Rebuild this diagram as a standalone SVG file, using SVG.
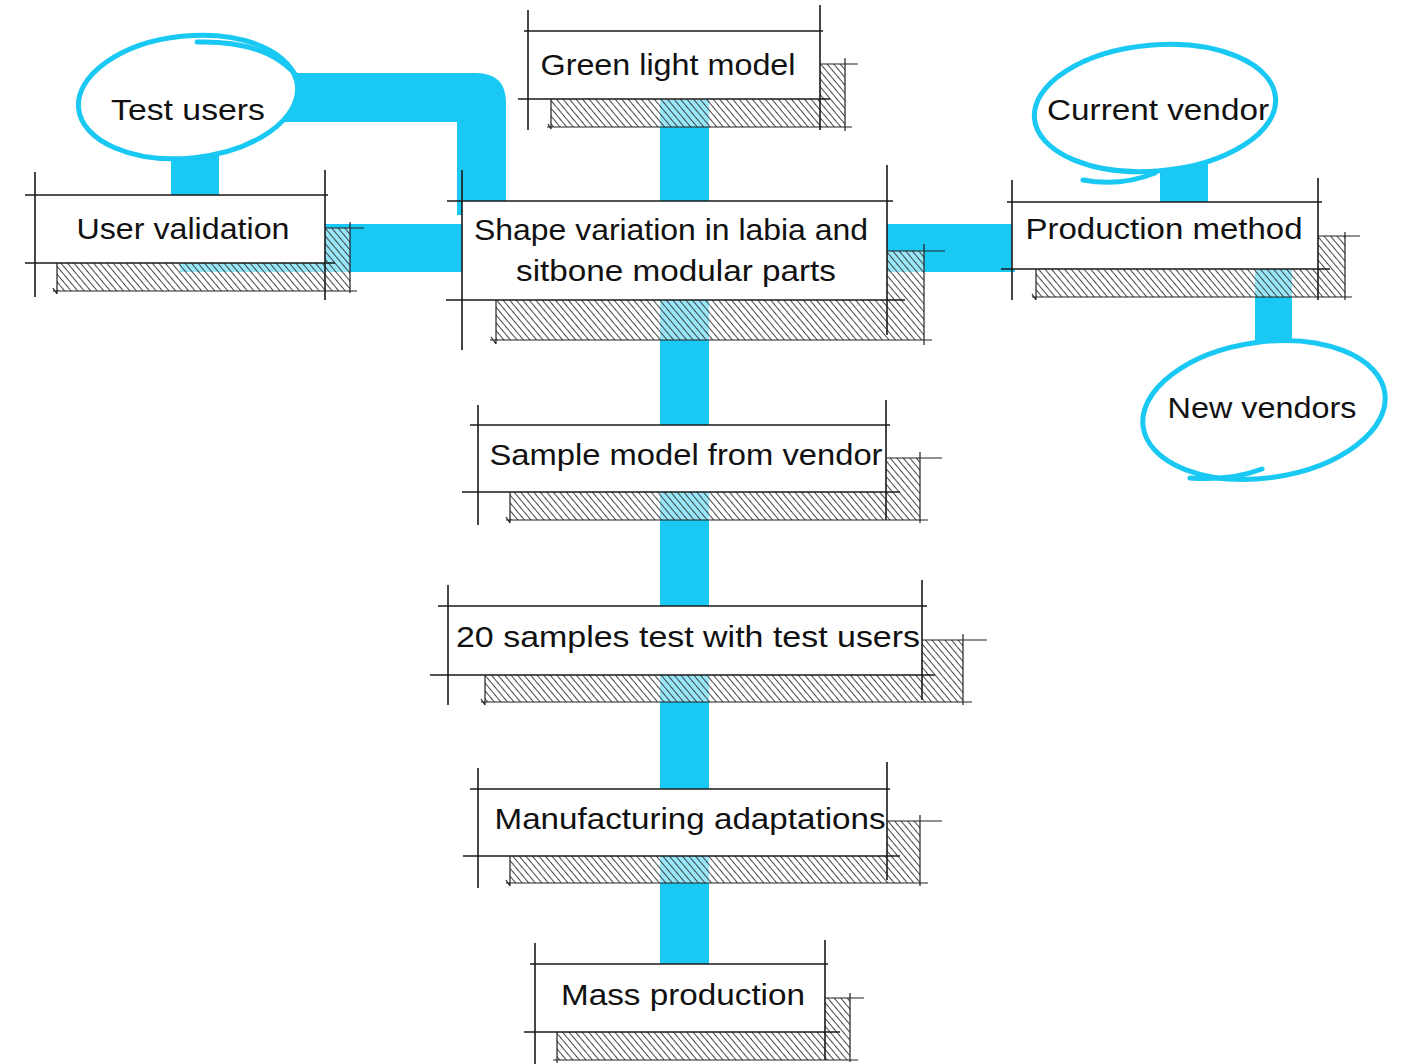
<svg xmlns="http://www.w3.org/2000/svg" width="1404" height="1064" viewBox="0 0 1404 1064">
<style>
.ln{stroke:#1a1a1a;stroke-width:1.6;fill:none}
.hl{stroke:#222;stroke-width:1.2;fill:none}
.box{fill:#fff}
.hatch{fill:url(#hp)}
.c{fill:#19c8f3}
.ring{fill:#fff;stroke:#19c8f3;stroke-width:5}
.tail{fill:none;stroke:#19c8f3;stroke-width:5;stroke-linecap:round}
.t{font-family:"Liberation Sans","DejaVu Sans",sans-serif;font-size:30px;fill:#111;text-anchor:middle}
</style>
<defs>
<pattern id="hp" patternUnits="userSpaceOnUse" width="5" height="5" patternTransform="rotate(-40)">
<rect width="5" height="5" fill="#fff" fill-opacity="0.55"/>
<line x1="2.5" y1="0" x2="2.5" y2="5" stroke="#333" stroke-width="0.9"/>
</pattern>
</defs>
<rect width="1404" height="1064" fill="#fff"/>
<g id="connectors">
<rect class="c" x="660" y="100" width="49" height="866"/>
<rect class="c" x="180" y="224" width="285" height="48"/>
<path class="c" d="M280 73 H476 Q506 73 506 103 V215 H457 V122 H280 Z"/>
<rect class="c" x="171" y="148" width="48" height="50"/>
<rect class="c" x="885" y="224" width="130" height="48"/>
<rect class="c" x="1160" y="160" width="48" height="45"/>
<rect class="c" x="1255" y="269" width="37" height="80"/>
</g>
<g id="test-users">
<ellipse class="ring" cx="188" cy="97" rx="110" ry="61" transform="rotate(-6 188 97)"/>
<path class="tail" d="M197 42 Q270 40 300 80"/>
<text class="t" x="188" y="120" textLength="154" lengthAdjust="spacingAndGlyphs">Test users</text>
</g>
<g id="current-vendor">
<ellipse class="ring" cx="1155" cy="108" rx="121" ry="63" transform="rotate(-5 1155 108)"/>
<path class="tail" d="M1083 180 Q1120 187 1155 173"/>
<text class="t" x="1158" y="120" textLength="222" lengthAdjust="spacingAndGlyphs">Current vendor</text>
</g>
<g id="new-vendors">
<ellipse class="ring" cx="1264" cy="410" rx="122" ry="68" transform="rotate(-8 1264 410)"/>
<path class="tail" d="M1190 478 Q1230 481 1262 469"/>
<text class="t" x="1262" y="418" textLength="189" lengthAdjust="spacingAndGlyphs">New vendors</text>
</g>
<g id="green-light-model">
<polygon class="hatch" points="551,99 820,99 820,64 845,64 845,127 551,127"/>
<rect class="box" x="528" y="31" width="292" height="68"/>
<path class="ln" d="M524 31H823M528 10V130M820 5V130M518 99H830"/>
<path class="hl" d="M547 127H852M551 99V129M845 58V131M820 64H858M548 124L551 129"/>
<text class="t" x="668" y="75" textLength="255" lengthAdjust="spacingAndGlyphs">Green light model</text>
</g>
<g id="shape-variation">
<polygon class="hatch" points="496,300 887,300 887,251 924,251 924,340 496,340"/>
<rect class="box" x="462" y="201" width="425" height="99"/>
<path class="ln" d="M447 201H893M462 170V350M887 165V335M446 300H905"/>
<path class="hl" d="M490 340H932M496 300V344M924 244V345M887 251H945M491 337L496 344"/>
<text class="t" x="671" y="240" textLength="394" lengthAdjust="spacingAndGlyphs">Shape variation in labia and</text>
<text class="t" x="676" y="281" textLength="320" lengthAdjust="spacingAndGlyphs">sitbone modular parts</text>
</g>
<g id="user-validation">
<polygon class="hatch" points="57,263 325,263 325,228 350,228 350,291 57,291"/>
<rect class="box" x="35" y="195" width="290" height="68"/>
<path class="ln" d="M25 195H328M35 172V297M325 170V300M25 263H335"/>
<path class="hl" d="M53 291H357M57 263V294M350 222V293M325 228H364M53 288L57 294"/>
<text class="t" x="183" y="239" textLength="213" lengthAdjust="spacingAndGlyphs">User validation</text>
</g>
<g id="production-method">
<polygon class="hatch" points="1036,269 1318,269 1318,236 1345,236 1345,297 1036,297"/>
<rect class="box" x="1012" y="202" width="306" height="67"/>
<path class="ln" d="M1007 202H1322M1012 180V300M1318 178V300M1001 269H1330"/>
<path class="hl" d="M1032 297H1352M1036 269V300M1345 232V300M1318 236H1360M1032 294L1036 300"/>
<text class="t" x="1164" y="239" textLength="277" lengthAdjust="spacingAndGlyphs">Production method</text>
</g>
<g id="sample-model">
<polygon class="hatch" points="510,492 886,492 886,458 920,458 920,520 510,520"/>
<rect class="box" x="478" y="425" width="408" height="67"/>
<path class="ln" d="M470 425H890M478 405V525M886 400V520M462 492H900"/>
<path class="hl" d="M506 520H928M510 492V523M920 452V523M886 458H942M506 517L510 523"/>
<text class="t" x="686" y="465" textLength="393" lengthAdjust="spacingAndGlyphs">Sample model from vendor</text>
</g>
<g id="twenty-samples">
<polygon class="hatch" points="485,675 922,675 922,640 963,640 963,702 485,702"/>
<rect class="box" x="448" y="606" width="474" height="69"/>
<path class="ln" d="M438 606H927M448 585V705M922 580V700M430 675H935"/>
<path class="hl" d="M481 702H972M485 675V705M963 634V705M922 640H987M481 699L485 705"/>
<text class="t" x="688" y="647" textLength="464" lengthAdjust="spacingAndGlyphs">20 samples test with test users</text>
</g>
<g id="manufacturing-adaptations">
<polygon class="hatch" points="510,856 887,856 887,821 920,821 920,883 510,883"/>
<rect class="box" x="478" y="789" width="409" height="67"/>
<path class="ln" d="M470 789H890M478 768V888M887 762V880M463 856H900"/>
<path class="hl" d="M506 883H928M510 856V886M920 815V886M887 821H942M506 880L510 886"/>
<text class="t" x="690" y="829" textLength="391" lengthAdjust="spacingAndGlyphs">Manufacturing adaptations</text>
</g>
<g id="mass-production">
<polygon class="hatch" points="557,1032 825,1032 825,998 850,998 850,1060 557,1060"/>
<rect class="box" x="535" y="964" width="290" height="68"/>
<path class="ln" d="M530 964H828M535 943V1064M825 940V1060M524 1032H840"/>
<path class="hl" d="M553 1060H858M557 1032V1063M850 993V1062M825 998H864"/>
<text class="t" x="683" y="1005" textLength="244" lengthAdjust="spacingAndGlyphs">Mass production</text>
</g>
</svg>
